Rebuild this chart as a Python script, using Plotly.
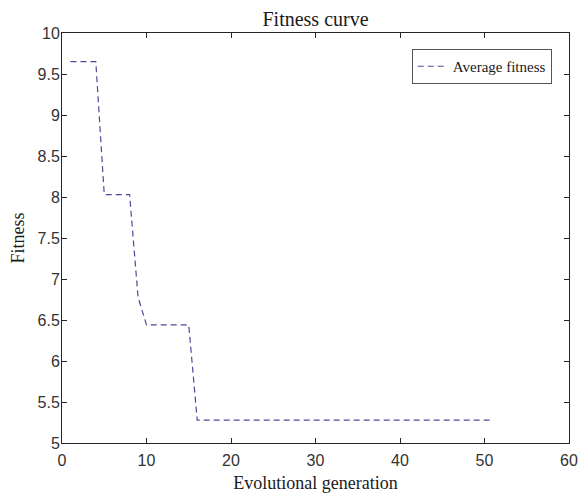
import plotly.graph_objects as go

generations = list(range(1, 52))
avg_fitness = ([9.65] * 4 + [8.03] * 4 + [6.78] + [6.44] * 6 + [5.28] * 36)

fig = go.Figure()
fig.add_trace(go.Scatter(
    x=generations, y=avg_fitness, mode="lines", name="Average fitness",
    line=dict(color="#4b4b9c", width=1.2, dash="6px,4px"),
))

axis_common = dict(
    showline=True, linecolor="#262626", linewidth=1, mirror="ticks",
    ticks="inside", ticklen=5, tickcolor="#262626", showgrid=False, zeroline=False,
    automargin=False,
    tickfont=dict(family="Liberation Sans, Arial", size=16, color="#333333"),
)

fig.update_layout(
    width=579, height=493,
    margin=dict(l=62, r=10, t=33, b=50),
    paper_bgcolor="white", plot_bgcolor="white",
    title=dict(text="Fitness curve", x=0.5, xanchor="center", xref="paper",
               y=0.975, yanchor="top", automargin=False,
               font=dict(family="Liberation Serif, Times New Roman", size=20, color="#1a1a1a")),
    xaxis=dict(range=[0, 60], dtick=10, tick0=0, ticklabelstandoff=3,
               title=dict(text="Evolutional generation", standoff=10,
                          font=dict(family="Liberation Serif, Times New Roman", size=18, color="#1a1a1a")),
               **axis_common),
    yaxis=dict(range=[5, 10], dtick=0.5, tick0=5, ticklabelstandoff=-2,
               title=dict(text="Fitness", standoff=8,
                          font=dict(family="Liberation Serif, Times New Roman", size=18, color="#1a1a1a")),
               **axis_common),
    showlegend=True,
    legend=dict(x=0.966, xanchor="right", y=0.961, yanchor="top",
                bordercolor="#555555", borderwidth=1, bgcolor="white",
                font=dict(family="Liberation Serif, Times New Roman", size=15, color="#1a1a1a")),
)

fig.write_html("out.html", config={"displayModeBar": False},
               post_script="document.body.style.margin='0';document.body.style.padding='0';")
